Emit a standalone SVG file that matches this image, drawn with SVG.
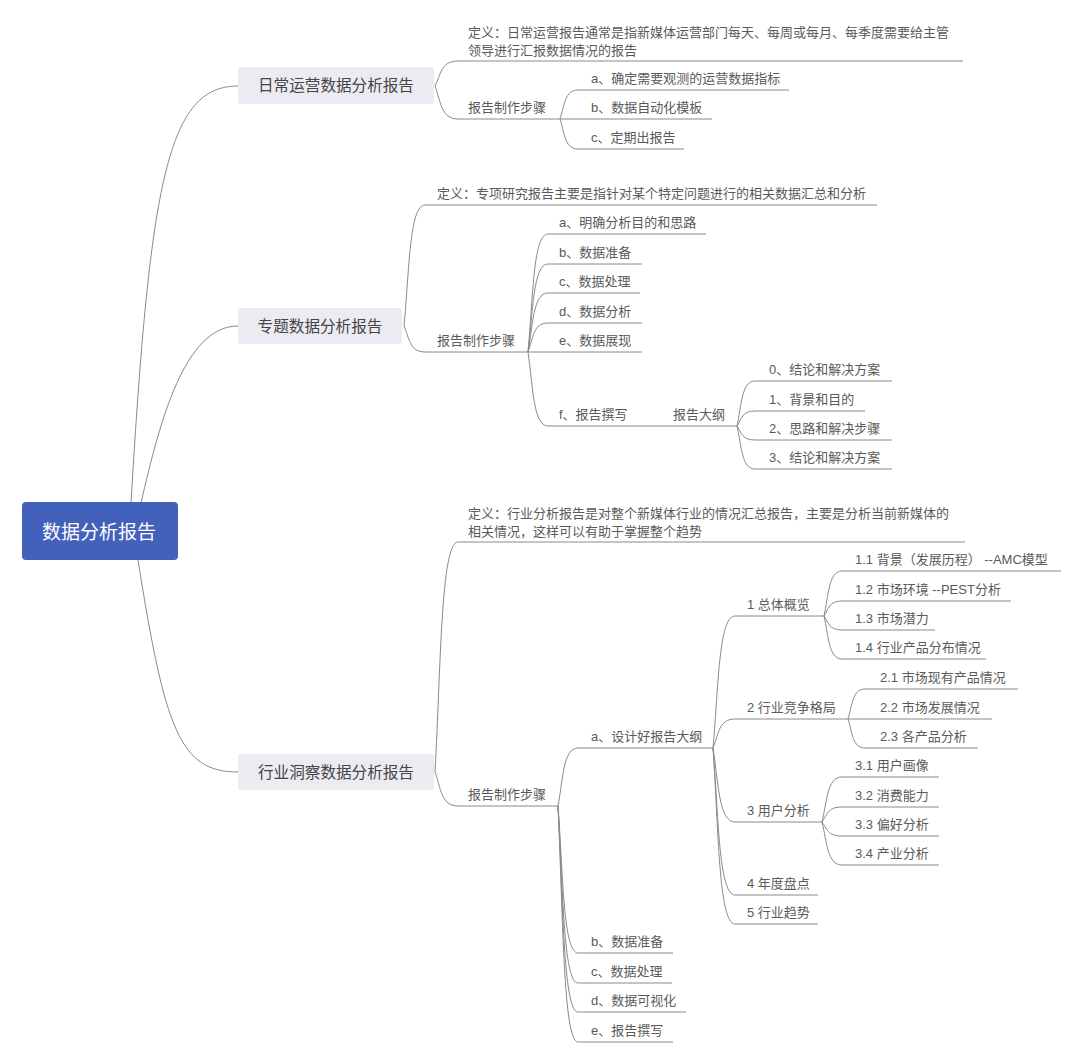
<svg xmlns="http://www.w3.org/2000/svg" width="1080" height="1063" viewBox="0 0 1080 1063">
<style>
text{font-family:"Liberation Sans","Noto Sans CJK SC",sans-serif;}
.t{font-size:13px;fill:#5a5a5a;}
.nt{font-size:15.6px;fill:#454545;text-anchor:middle;dominant-baseline:central;}
.rt{font-size:19px;fill:#ffffff;text-anchor:middle;dominant-baseline:central;}
.box{fill:#ebebf2;}
.root{fill:#4361ba;}
.ul{stroke:#8a8a8a;stroke-width:1;fill:none;}
#connectors path{stroke:#8a8a8a;stroke-width:1;fill:none;}
</style>
<rect width="1080" height="1063" fill="#ffffff"/>
<g id="connectors">
<path d="M131,503 C150,180 168,86 238,86"/>
<path d="M141,503 C160,420 185,326 238,326"/>
<path d="M138,560 C165,730 180,772 238,772"/>
<path d="M435,86 C440.8,74.8 440.8,61 458,61"/>
<path d="M435,86 C440.8,100.9 440.8,119 458,119"/>
<path d="M560,119 C564.5,106 564.5,90 578,90"/>
<path d="M560,119 H578"/>
<path d="M560,119 C564.5,132.5 564.5,149 578,149"/>
<path d="M404,326 C409.3,271.6 409.3,205 425,205"/>
<path d="M404,326 C409.3,337.7 409.3,352 425,352"/>
<path d="M528,352 C533,298.9 533,234 548,234"/>
<path d="M528,352 C533,312.4 533,264 548,264"/>
<path d="M528,352 C533,325.5 533,293 548,293"/>
<path d="M528,352 C533,339 533,323 548,323"/>
<path d="M528,352 H548"/>
<path d="M528,352 C533,385.3 533,426 548,426"/>
<path d="M640,426 H660"/>
<path d="M737,426 C741.5,405.8 741.5,381 755,381"/>
<path d="M737,426 C741.5,419.3 741.5,411 755,411"/>
<path d="M737,426 C741.5,432.3 741.5,440 755,440"/>
<path d="M737,426 C741.5,445.4 741.5,469 755,469"/>
<path d="M435,772 C440.8,668.5 440.8,542 458,542"/>
<path d="M435,772 C440.8,787.3 440.8,806 458,806"/>
<path d="M558,806 C563,779.9 563,748 578,748"/>
<path d="M558,806 C563,872.2 563,953 578,953"/>
<path d="M558,806 C563,885.7 563,983 578,983"/>
<path d="M558,806 C563,898.7 563,1012 578,1012"/>
<path d="M558,806 C563,912.2 563,1042 578,1042"/>
<path d="M713,748 C718.5,688.6 718.5,616 735,616"/>
<path d="M713,748 C718.5,735 718.5,719 735,719"/>
<path d="M713,748 C718.5,781.3 718.5,822 735,822"/>
<path d="M713,748 C718.5,814.2 718.5,895 735,895"/>
<path d="M713,748 C718.5,827.2 718.5,924 735,924"/>
<path d="M824,616 C828.5,595.8 828.5,571 842,571"/>
<path d="M824,616 C828.5,609.3 828.5,601 842,601"/>
<path d="M824,616 C828.5,622.3 828.5,630 842,630"/>
<path d="M824,616 C828.5,635.4 828.5,659 842,659"/>
<path d="M848,719 C852.3,705.5 852.3,689 865,689"/>
<path d="M848,719 H865"/>
<path d="M848,719 C852.3,732 852.3,748 865,748"/>
<path d="M822,822 C827,801.8 827,777 842,777"/>
<path d="M822,822 C827,815.3 827,807 842,807"/>
<path d="M822,822 C827,828.3 827,836 842,836"/>
<path d="M822,822 C827,841.4 827,865 842,865"/>
</g>
<g id="root"><rect class="root" x="22" y="502" width="156" height="58" rx="4"/><text class="rt" x="99" y="532">数据分析报告</text></g>

<g id="n1"><rect class="box" x="238" y="67" width="196" height="37" rx="3"/><text class="nt" x="336" y="85.5">日常运营数据分析报告</text></g>
<g id="n1-def"><text class="t" x="468" y="37">定义：日常运营报告通常是指新媒体运营部门每天、每周或每月、每季度需要给主管</text><text class="t" x="468" y="55">领导进行汇报数据情况的报告</text><line class="ul" x1="458" y1="61" x2="963" y2="61"/></g>
<g id="n1-steps"><text class="t" x="468" y="112">报告制作步骤</text><line class="ul" x1="458" y1="119" x2="560" y2="119"/></g>
<g id="n1-a"><text class="t" x="591" y="83">a、确定需要观测的运营数据指标</text><line class="ul" x1="578" y1="90" x2="789" y2="90"/></g>
<g id="n1-b"><text class="t" x="591" y="112">b、数据自动化模板</text><line class="ul" x1="578" y1="119" x2="712" y2="119"/></g>
<g id="n1-c"><text class="t" x="591" y="142">c、定期出报告</text><line class="ul" x1="578" y1="149" x2="684" y2="149"/></g>

<g id="n2"><rect class="box" x="238" y="308" width="164" height="36" rx="3"/><text class="nt" x="320" y="326">专题数据分析报告</text></g>
<g id="n2-def"><text class="t" x="437" y="198">定义：专项研究报告主要是指针对某个特定问题进行的相关数据汇总和分析</text><line class="ul" x1="425" y1="205" x2="877" y2="205"/></g>
<g id="n2-steps"><text class="t" x="437" y="345">报告制作步骤</text><line class="ul" x1="425" y1="352" x2="528" y2="352"/></g>
<g id="n2-a"><text class="t" x="559" y="227">a、明确分析目的和思路</text><line class="ul" x1="548" y1="234" x2="706" y2="234"/></g>
<g id="n2-b"><text class="t" x="559" y="257">b、数据准备</text><line class="ul" x1="548" y1="264" x2="642" y2="264"/></g>
<g id="n2-c"><text class="t" x="559" y="286">c、数据处理</text><line class="ul" x1="548" y1="293" x2="640" y2="293"/></g>
<g id="n2-d"><text class="t" x="559" y="316">d、数据分析</text><line class="ul" x1="548" y1="323" x2="642" y2="323"/></g>
<g id="n2-e"><text class="t" x="559" y="345">e、数据展现</text><line class="ul" x1="548" y1="352" x2="642" y2="352"/></g>
<g id="n2-f"><text class="t" x="559" y="419">f、报告撰写</text><line class="ul" x1="548" y1="426" x2="640" y2="426"/></g>
<g id="n2-outline"><text class="t" x="673" y="419">报告大纲</text><line class="ul" x1="660" y1="426" x2="737" y2="426"/></g>
<g id="n2-o0"><text class="t" x="769" y="374">0、结论和解决方案</text><line class="ul" x1="755" y1="381" x2="892" y2="381"/></g>
<g id="n2-o1"><text class="t" x="769" y="404">1、背景和目的</text><line class="ul" x1="755" y1="411" x2="865" y2="411"/></g>
<g id="n2-o2"><text class="t" x="769" y="433">2、思路和解决步骤</text><line class="ul" x1="755" y1="440" x2="892" y2="440"/></g>
<g id="n2-o3"><text class="t" x="769" y="462">3、结论和解决方案</text><line class="ul" x1="755" y1="469" x2="892" y2="469"/></g>

<g id="n3"><rect class="box" x="238" y="754" width="196" height="36" rx="3"/><text class="nt" x="336" y="772">行业洞察数据分析报告</text></g>
<g id="n3-def"><text class="t" x="468" y="518">定义：行业分析报告是对整个新媒体行业的情况汇总报告，主要是分析当前新媒体的</text><text class="t" x="468" y="536">相关情况，这样可以有助于掌握整个趋势</text><line class="ul" x1="458" y1="542" x2="965" y2="542"/></g>
<g id="n3-steps"><text class="t" x="468" y="799">报告制作步骤</text><line class="ul" x1="458" y1="806" x2="558" y2="806"/></g>
<g id="n3-a"><text class="t" x="591" y="741">a、设计好报告大纲</text><line class="ul" x1="578" y1="748" x2="713" y2="748"/></g>
<g id="n3-b"><text class="t" x="591" y="946">b、数据准备</text><line class="ul" x1="578" y1="953" x2="673" y2="953"/></g>
<g id="n3-c"><text class="t" x="591" y="976">c、数据处理</text><line class="ul" x1="578" y1="983" x2="672" y2="983"/></g>
<g id="n3-d"><text class="t" x="591" y="1005">d、数据可视化</text><line class="ul" x1="578" y1="1012" x2="686" y2="1012"/></g>
<g id="n3-e"><text class="t" x="591" y="1035">e、报告撰写</text><line class="ul" x1="578" y1="1042" x2="673" y2="1042"/></g>
<g id="n3-1"><text class="t" x="747" y="609">1 总体概览</text><line class="ul" x1="735" y1="616" x2="824" y2="616"/></g>
<g id="n3-2"><text class="t" x="747" y="712">2 行业竞争格局</text><line class="ul" x1="735" y1="719" x2="848" y2="719"/></g>
<g id="n3-3"><text class="t" x="747" y="815">3 用户分析</text><line class="ul" x1="735" y1="822" x2="822" y2="822"/></g>
<g id="n3-4"><text class="t" x="747" y="888">4 年度盘点</text><line class="ul" x1="735" y1="895" x2="818" y2="895"/></g>
<g id="n3-5"><text class="t" x="747" y="917">5 行业趋势</text><line class="ul" x1="735" y1="924" x2="818" y2="924"/></g>
<g id="n3-11"><text class="t" x="855" y="564">1.1 背景（发展历程） --AMC模型</text><line class="ul" x1="842" y1="571" x2="1061" y2="571"/></g>
<g id="n3-12"><text class="t" x="855" y="594">1.2 市场环境 --PEST分析</text><line class="ul" x1="842" y1="601" x2="1011" y2="601"/></g>
<g id="n3-13"><text class="t" x="855" y="623">1.3 市场潜力</text><line class="ul" x1="842" y1="630" x2="935" y2="630"/></g>
<g id="n3-14"><text class="t" x="855" y="652">1.4 行业产品分布情况</text><line class="ul" x1="842" y1="659" x2="986" y2="659"/></g>
<g id="n3-21"><text class="t" x="880" y="682">2.1 市场现有产品情况</text><line class="ul" x1="865" y1="689" x2="1018" y2="689"/></g>
<g id="n3-22"><text class="t" x="880" y="712">2.2 市场发展情况</text><line class="ul" x1="865" y1="719" x2="992" y2="719"/></g>
<g id="n3-23"><text class="t" x="880" y="741">2.3 各产品分析</text><line class="ul" x1="865" y1="748" x2="978" y2="748"/></g>
<g id="n3-31"><text class="t" x="855" y="770">3.1 用户画像</text><line class="ul" x1="842" y1="777" x2="939" y2="777"/></g>
<g id="n3-32"><text class="t" x="855" y="800">3.2 消费能力</text><line class="ul" x1="842" y1="807" x2="939" y2="807"/></g>
<g id="n3-33"><text class="t" x="855" y="829">3.3 偏好分析</text><line class="ul" x1="842" y1="836" x2="939" y2="836"/></g>
<g id="n3-34"><text class="t" x="855" y="858">3.4 产业分析</text><line class="ul" x1="842" y1="865" x2="939" y2="865"/></g>
</svg>
